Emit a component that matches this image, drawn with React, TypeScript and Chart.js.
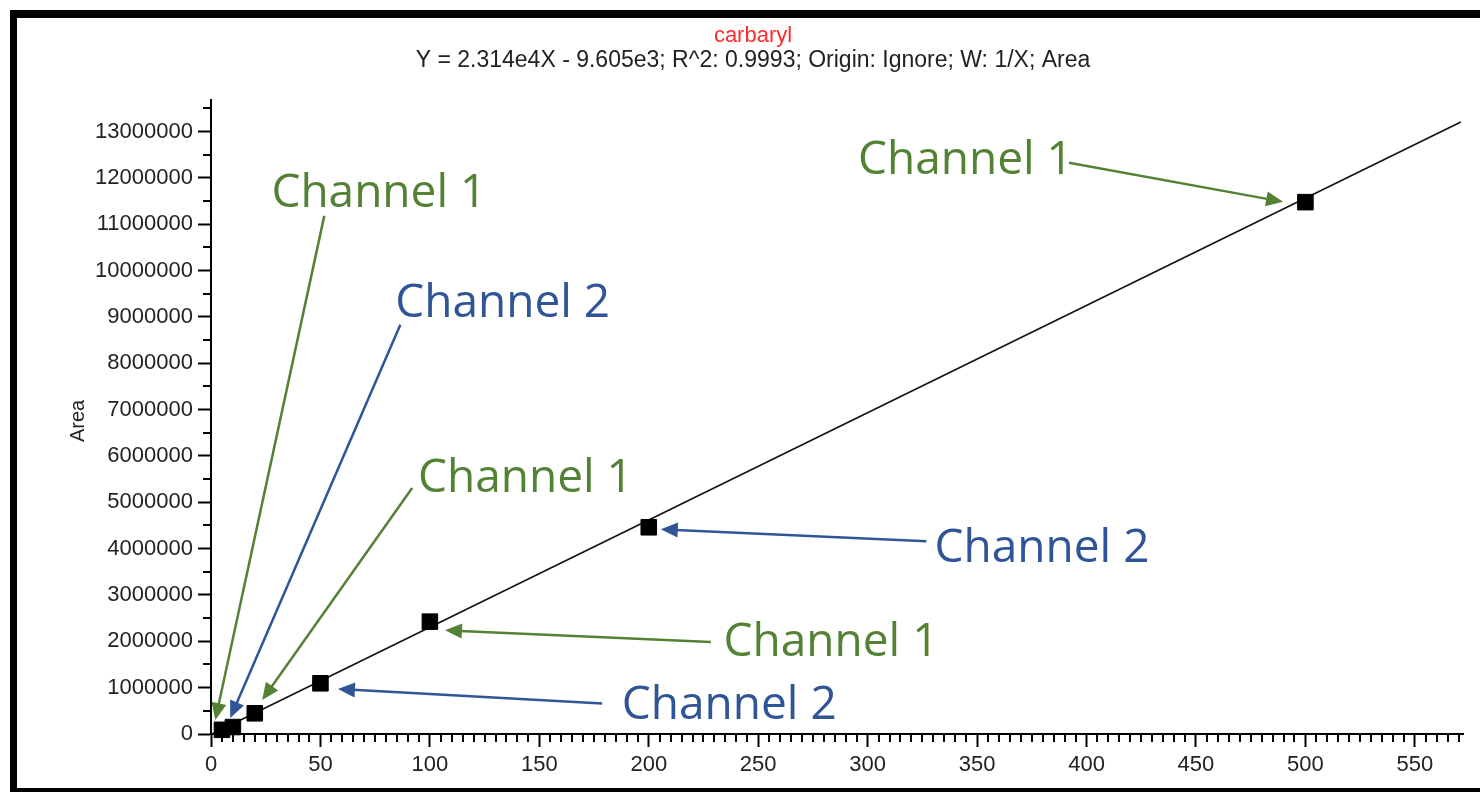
import React, { useEffect, useRef } from "react";
import { Chart, registerables } from "chart.js";

Chart.register(...registerables);

// ---- data ----
const concentrations = [5, 10, 20, 50, 100, 200, 500];
const areas = [90000, 150000, 447000, 1094000, 2424000, 4461000, 11476000];
const fitLineX = [0, 571];
const fitLineY = [-9605, 13203335];

const titleText = "carbaryl";
const equationText = "Y = 2.314e4X - 9.605e3; R^2: 0.9993; Origin: Ignore; W: 1/X; Area";
const yAxisTitle = "Area";

const xMin = 0;
const xMax = 572;
const xStep = 50;
const xMinorStep = 5;
const yMin = 0;
const yMax = 13680000;
const yStep = 1000000;
const yMinorStep = 500000;
const yTickValues = [0, 1000000, 2000000, 3000000, 4000000, 5000000, 6000000, 7000000, 8000000, 9000000, 10000000, 11000000, 12000000, 13000000];

const annotationLabels = ["Channel 1", "Channel 1", "Channel 2", "Channel 1", "Channel 2", "Channel 1", "Channel 2"];
const annotationColors = ["#548235", "#548235", "#2f5597", "#548235", "#2f5597", "#548235", "#2f5597"];
const annotationTextX = [295.6, 27.6, 84.2, 94.6, 330.6, 234.2, 187.7];
const annotationTextY = [12087000, 11375000, 9000000, 5223000, 3712000, 1686000, 324000];
const arrowTailX = [392.0, 51.75, 86.5, 91.9, 326.8, 228.4, 178.7];
const arrowTailY = [12325000, 11180000, 8828000, 5310000, 4157000, 1984000, 660000];
const arrowTipX = [489.8, 1.96, 8.8, 23.4, 205.5, 106.9, 58.0];
const arrowTipY = [11483000, 302000, 345000, 734000, 4418000, 2238000, 971000];

const TICK_FONT = "Arial, 'Liberation Sans', sans-serif";
const NOTE_FONT = "'Open Sans', 'Noto Sans', sans-serif";

const framePlugin = {
  id: "frame",
  beforeDraw(chart: any) {
    const ctx = chart.ctx;
    ctx.save();
    ctx.fillStyle = "#ffffff";
    ctx.fillRect(0, 0, chart.width, chart.height);
    ctx.fillStyle = "#000000";
    ctx.fillRect(10, 10, chart.width - 10, 8);
    ctx.fillRect(10, 10, 7, chart.height - 10);
    ctx.fillRect(10, 788, chart.width - 10, 4);
    ctx.restore();
  },
};

const minorTicksPlugin = {
  id: "minorTicks",
  afterDraw(chart: any) {
    const ctx = chart.ctx;
    const xs = chart.scales.x;
    const ys = chart.scales.y;
    const area = chart.chartArea;
    ctx.save();
    ctx.strokeStyle = "#000";
    ctx.lineWidth = 2;
    ctx.beginPath();
    for (let v = xMin; v <= xMax; v += xMinorStep) {
      if (v % xStep === 0) continue;
      const px = Math.round(xs.getPixelForValue(v));
      ctx.moveTo(px, area.bottom);
      ctx.lineTo(px, area.bottom + 8);
    }
    for (let v = yMinorStep; v <= yMax; v += yStep) {
      const py = Math.round(ys.getPixelForValue(v));
      ctx.moveTo(area.left, py);
      ctx.lineTo(area.left - 8, py);
    }
    ctx.stroke();

    // titles
    ctx.textAlign = "center";
    ctx.textBaseline = "middle";
    ctx.fillStyle = "#ff2a2a";
    ctx.font = `22px ${TICK_FONT}`;
    ctx.fillText(titleText, 753, 36);
    ctx.fillStyle = "#222";
    ctx.font = `23px ${TICK_FONT}`;
    ctx.fillText(equationText, 753, 61);

    ctx.save();
    ctx.translate(78, 421);
    ctx.rotate(-Math.PI / 2);
    ctx.font = `20px ${TICK_FONT}`;
    ctx.fillStyle = "#222";
    ctx.fillText(yAxisTitle, 0, 0);
    ctx.restore();

    // annotations
    for (let i = 0; i < annotationLabels.length; i++) {
      const color = annotationColors[i];
      const tx = xs.getPixelForValue(arrowTailX[i]);
      const ty = ys.getPixelForValue(arrowTailY[i]);
      const hx = xs.getPixelForValue(arrowTipX[i]);
      const hy = ys.getPixelForValue(arrowTipY[i]);
      const ang = Math.atan2(hy - ty, hx - tx);
      const headLen = 17;
      const headHalf = 7.5;
      const bx = hx - headLen * Math.cos(ang);
      const by = hy - headLen * Math.sin(ang);
      ctx.strokeStyle = color;
      ctx.fillStyle = color;
      ctx.lineWidth = 2.5;
      ctx.beginPath();
      ctx.moveTo(tx, ty);
      ctx.lineTo(bx + 2 * Math.cos(ang), by + 2 * Math.sin(ang));
      ctx.stroke();
      ctx.beginPath();
      ctx.moveTo(hx, hy);
      ctx.lineTo(bx + headHalf * Math.sin(ang), by - headHalf * Math.cos(ang));
      ctx.lineTo(bx - headHalf * Math.sin(ang), by + headHalf * Math.cos(ang));
      ctx.closePath();
      ctx.fill();

      ctx.font = `46px ${NOTE_FONT}`;
      ctx.textAlign = "left";
      ctx.textBaseline = "alphabetic";
      ctx.fillText(
        annotationLabels[i],
        xs.getPixelForValue(annotationTextX[i]),
        ys.getPixelForValue(annotationTextY[i])
      );
    }
    ctx.restore();
  },
};

export default function App() {
  const canvasRef = useRef<HTMLCanvasElement | null>(null);

  useEffect(() => {
    const canvas = canvasRef.current;
    if (!canvas) return;
    const points = concentrations.map((x, i) => ({ x, y: areas[i] }));
    const fit = fitLineX.map((x, i) => ({ x, y: fitLineY[i] }));
    const chart = new Chart(canvas, {
      type: "scatter",
      data: {
        datasets: [
          {
            label: "Calibration points",
            data: points,
            pointStyle: "rect",
            pointRadius: 11,
            pointHoverRadius: 11,
            backgroundColor: "#000",
            borderColor: "#000",
            borderWidth: 1,
            showLine: false,
            clip: false as any,
          },
          {
            label: "Fit",
            data: fit,
            showLine: true,
            borderColor: "#111",
            borderWidth: 1.6,
            pointRadius: 0,
            pointHoverRadius: 0,
            clip: false as any,
          },
        ],
      },
      options: {
        animation: false,
        responsive: false,
        maintainAspectRatio: false,
        events: [],
        layout: { padding: { top: 100, right: 17, left: 0, bottom: 0 } },
        plugins: {
          legend: { display: false },
          title: { display: false },
          tooltip: { enabled: false },
        },
        scales: {
          x: {
            type: "linear",
            position: "bottom",
            min: xMin,
            max: xMax,
            afterFit(scale: any) {
              scale.height = 58;
            },
            ticks: {
              stepSize: xStep,
              includeBounds: false,
              autoSkip: false,
              maxTicksLimit: 50,
              maxRotation: 0,
              padding: 5,
              color: "#222",
              font: { family: TICK_FONT, size: 22 },
              callback: (v: any) => String(v),
            },
            grid: {
              display: true,
              drawOnChartArea: false,
              drawTicks: true,
              tickLength: 13,
              tickWidth: 2,
              tickColor: "#000",
            },
            border: { display: true, color: "#000", width: 2 },
          },
          y: {
            type: "linear",
            min: yMin,
            max: yMax,
            afterFit(scale: any) {
              scale.width = 211;
            },
            afterBuildTicks(scale: any) {
              scale.ticks = yTickValues.map((v) => ({ value: v }));
            },
            ticks: {
              autoSkip: false,
              padding: 5,
              color: "#222",
              font: { family: TICK_FONT, size: 22 },
              callback: (v: any) => Number(v).toFixed(0),
            },
            grid: {
              display: true,
              drawOnChartArea: false,
              drawTicks: true,
              tickLength: 13,
              tickWidth: 2,
              tickColor: "#000",
            },
            border: { display: true, color: "#000", width: 2 },
          },
        },
      },
      plugins: [framePlugin, minorTicksPlugin],
    });
    if ((document as any).fonts && (document as any).fonts.load) {
      (document as any).fonts
        .load(`46px 'Open Sans'`)
        .then(() => chart.update())
        .catch(() => {});
    }
    return () => chart.destroy();
  }, []);

  return (
    <div style={{ position: "fixed", left: 0, top: 0, width: 1480, height: 792, background: "#fff" }}>
      <canvas ref={canvasRef} width={1480} height={792} style={{ width: 1480, height: 792, display: "block" }} />
    </div>
  );
}
